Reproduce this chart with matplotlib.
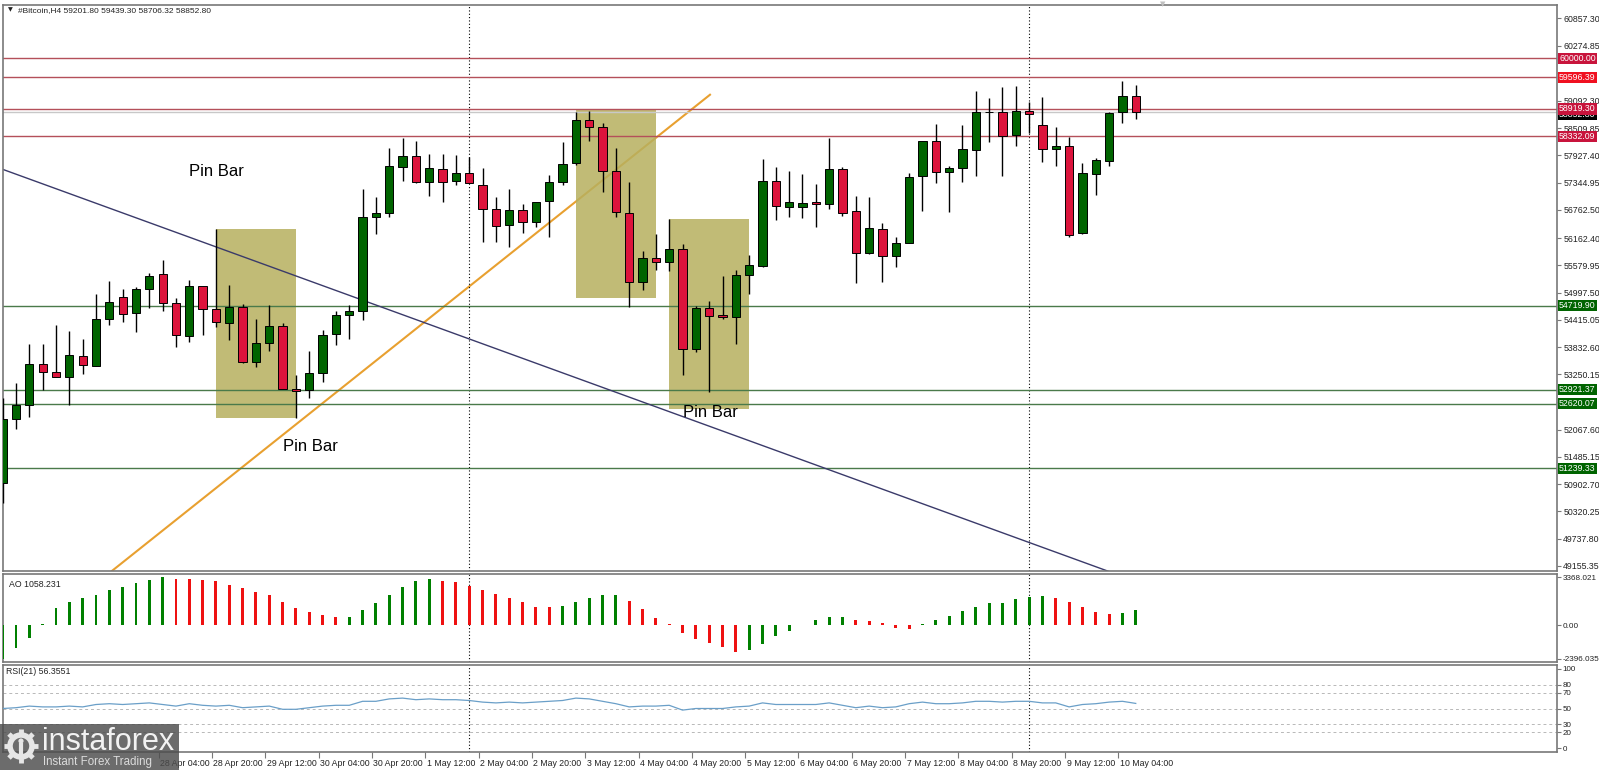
import matplotlib
matplotlib.use("Agg")
import matplotlib.pyplot as plt
import matplotlib.transforms as mtransforms
from matplotlib.patches import Rectangle, Circle
import numpy as np

plt.rcParams["font.family"] = ["Liberation Sans", "DejaVu Sans"]

# =====================================================
# Data (26 Apr 04:00 -> 10 May 08:00)
# =====================================================

opens = [50934, 52288, 52594, 53470, 53293, 53186, 53647, 53427, 54432, 54895,
         54560, 55066, 55399, 54774, 54075, 55130, 54645, 54340, 54694, 53519,
         53912, 54276, 52936, 52914, 53271, 54111, 54517, 54609, 56611, 56690,
         57673, 57915, 57353, 57637, 57387, 57552, 57302, 56789, 56440, 56767,
         56498, 56947, 57365, 57772, 58690, 58528, 57601, 56690, 55229, 55729,
         55656, 55921, 53791, 54660, 54517, 54481, 55372, 55571, 57381, 56832,
         56832, 56926, 56889, 57637, 56746, 55836, 56348, 55784, 56062, 57494,
         58242, 57580, 57652, 58043, 58849, 58849, 58364, 58883, 58584, 58064,
         58122, 56263, 57530, 57814, 58849, 59201.80]
highs = [52744, 53071, 53898, 53898, 54302, 54169, 53998, 54960, 55244, 55066,
         55115, 55421, 55693, 54874, 55265, 55130, 56361, 55158, 54752, 54425,
         54731, 54340, 53235, 53754, 54197, 54609, 54731, 57203, 57032, 58079,
         58293, 58235, 57951, 57951, 57930, 57893, 57652, 57032, 57210, 56889,
         56926, 57516, 58208, 58849, 58883, 58614, 58079, 57353, 55891, 56248,
         56562, 56035, 54709, 54816, 55351, 55479, 55799, 57844, 57673, 57594,
         57530, 57317, 58293, 57686, 57060, 57032, 56489, 56177, 57545, 58242,
         58592, 57701, 58571, 59310, 59148, 59383, 59411, 59062, 59169, 58528,
         58327, 57759, 57866, 58849, 59524, 59439.30]
lows = [50500, 52075, 52331, 52914, 53186, 52594, 53256, 53427, 54303, 54361,
        54147, 54660, 54609, 53840, 53947, 54090, 54254, 53983, 53485, 53412,
        53754, 52936, 52316, 52738, 53092, 53876, 53998, 54410, 56248, 56605,
        57387, 57331, 57067, 56925, 57295, 57331, 56084, 56084, 55977, 56276,
        56404, 56178, 57295, 57722, 58242, 57152, 56605, 54695, 55051, 55479,
        55457, 53235, 53720, 52878, 54425, 53897, 54966, 55536, 56547, 56618,
        56583, 56391, 56776, 56639, 55207, 55821, 55229, 55549, 56049, 56746,
        57331, 56724, 57365, 57494, 58220, 57494, 58129, 58400, 57780, 57708,
        56178, 56248, 57081, 57708, 58613, 58706.32]
closes = [52288, 52594, 53470, 53293, 53186, 53662, 53449, 54432, 54795, 54538,
          55066, 55350, 54774, 54090, 55130, 54645, 54361, 54694, 53519, 53912,
          54288, 52936, 52900, 53271, 54090, 54517, 54609, 56611, 56690, 57694,
          57921, 57365, 57658, 57365, 57552, 57331, 56782, 56425, 56767, 56498,
          56926, 57353, 57744, 58690, 58528, 57601, 56712, 55229, 55729, 55643,
          55921, 53791, 54660, 54502, 54481, 55372, 55586, 57381, 56853, 56926,
          56904, 56889, 57637, 56703, 55848, 56370, 55784, 56062, 57460, 58242,
          57580, 57652, 58064, 58849, 58855, 58349, 58883, 58812, 58064, 58122,
          56227, 57545, 57829, 58827, 59201.80, 58852.80]

ao_values = [-2396.035, -1600, -895, 70, 1180, 1600, 1885, 2120, 2470, 2660,
             2945, 3180, 3368.021, 3250, 3225, 3180, 3130, 2825, 2640, 2355,
             2120, 1650, 1180, 895, 705, 540, 590, 1060, 1580, 2120,
             2660, 3130, 3250, 3130, 3015, 2755, 2495, 2190, 1885, 1600,
             1295, 1250, 1365, 1650, 1940, 2120, 2150, 1720, 1130, 470,
             45, -590, -990, -1295, -1530, -1885, -1765, -1340, -755, -400,
             30, 355, 540, 560, 355, 285, 120, -235, -285, 40,
             355, 660, 1015, 1295, 1530, 1560, 1835, 2000, 2030, 1885,
             1650, 1250, 895, 775, 850, 1058.231]

rsi_values = [50, 51, 53, 52, 52, 53, 52, 55, 56, 55,
              56, 57, 55, 53, 56, 54, 53, 54, 51, 52,
              53, 49, 49, 51, 53, 54, 54, 59, 59, 62,
              63, 61, 62, 61, 61, 60, 58, 57, 58, 57,
              58, 59, 60, 63, 62, 59, 56, 52, 53, 53,
              54, 48, 50, 50, 50, 52, 53, 57, 55, 55,
              55, 55, 57, 54, 51, 53, 51, 52, 56, 58,
              56, 56, 57, 59, 59, 58, 59, 59, 57, 57,
              52, 55, 56, 58, 59, 56.3551]

# the 27 Apr label is hidden by the broker logo in the original
time_labels = ["26 Apr 2021", "28 Apr 04:00", "28 Apr 20:00",
               "29 Apr 12:00", "30 Apr 04:00", "30 Apr 20:00", "1 May 12:00",
               "2 May 04:00", "2 May 20:00", "3 May 12:00", "4 May 04:00",
               "4 May 20:00", "5 May 12:00", "6 May 04:00", "6 May 20:00",
               "7 May 12:00", "8 May 04:00", "8 May 20:00", "9 May 12:00",
               "10 May 04:00"]
time_label_idx = [0, 12, 16, 20, 24, 28, 32, 36, 40, 44, 48, 52, 56, 60,
                  64, 68, 72, 76, 80, 84]

# scale labels; the two that sit under the level boxes are left unlabeled
price_ticks = [60857.30, 60274.85, 59692.40, 59092.30, 58509.85, 57927.40,
               57344.95, 56762.50, 56162.40, 55579.95, 54997.50, 54415.05,
               53832.60, 53250.15, 52667.70, 52067.60, 51485.15, 50902.70,
               50320.25, 49737.80, 49155.35]
hidden_ticks = [59692.40, 52667.70]

resistance_levels = [60000.00, 59596.39, 58919.30, 58332.09]
resistance_box = ["#c8143c", "#f01020", "#c8143c", "#c8143c"]
support_levels = [54719.90, 52921.37, 52620.07, 51239.33]
bid_price = 58852.80

# boxes: (first bar, last bar, low, high)
pin_boxes = [(16, 22, 52316, 56361), (43, 49, 54874, 58919), (50, 56, 52502, 56562)]
pin_labels = [(16.0, 57573), (23.1, 51718), (53.1, 52444)]
downtrend_x, downtrend_y = [0.0, 83.3], [57630, 49004]
uptrend_x, uptrend_y = [8.0, 53.06], [49004, 59224]
week_separators = [35, 77]

# =====================================================
# Figure layout
# =====================================================

W, H = 1599, 770
fig = plt.figure(figsize=(W / 100, H / 100), dpi=100)
fig.patch.set_facecolor("white")


def px_axes(x0, y0, x1, y1):
    return fig.add_axes([x0 / W, 1 - y1 / H, (x1 - x0) / W, (y1 - y0) / H])


ax = px_axes(2.5, 5, 1557, 571)
ax_ao = px_axes(2.5, 574, 1557, 662)
ax_rsi = px_axes(2.5, 665, 1557, 752)

small = 6.3
spine_col = "#787878"
XLIM = (-0.013, 116.6)
x = np.arange(len(opens))
o = np.array(opens, float)
h = np.array(highs, float)
l = np.array(lows, float)
c = np.array(closes, float)

for a in (ax, ax_ao, ax_rsi):
    for s in a.spines.values():
        s.set_color(spine_col)
        s.set_linewidth(1.2)
    a.yaxis.tick_right()
    a.tick_params(axis="y", length=3, width=0.8, color=spine_col,
                  labelsize=small, pad=1.5, labelcolor="#222222")
    for sep in week_separators:
        a.axvline(sep, color="black", lw=0.8, ls=(0, (1, 2)), zorder=2)

ax.tick_params(axis="x", bottom=False, labelbottom=False)
ax_ao.tick_params(axis="x", bottom=False, labelbottom=False)

# =====================================================
# Main price panel
# =====================================================

ax.set_ylim(49047, 61141.5)
ax.set_yticks(price_ticks)
ax.set_yticklabels(["" if v in hidden_ticks else f"{v:.2f}" for v in price_ticks])

for lo_i, hi_i, lo_p, hi_p in pin_boxes:
    ax.add_patch(Rectangle((lo_i, lo_p), hi_i - lo_i, hi_p - lo_p,
                           fc="#b7b05e", alpha=0.85, ec="none", zorder=1))

ax.plot(uptrend_x, uptrend_y, color="#e8a030", lw=1.5, zorder=0.8)
ax.plot(downtrend_x, downtrend_y, color="#3a3a6a", lw=1.0, zorder=2.5)

for lvl in resistance_levels:
    ax.axhline(lvl, color="#b4505a", lw=1.0, zorder=2)
for lvl in support_levels:
    ax.axhline(lvl, color="#4a7a4a", lw=1.0, zorder=2)
ax.axhline(bid_price, color="#c8c8c8", lw=1.0, zorder=2)

# candles
up = c >= o
body_col = np.where(up, "#006400", "#dc143c")
ax.vlines(x, l, h, color="black", lw=1.0, zorder=3)
ax.bar(x, np.maximum(np.abs(c - o), 8), bottom=np.minimum(o, c), width=0.62,
       color=body_col, edgecolor="black", linewidth=0.7, zorder=4)

for px, py in pin_labels:
    ax.text(px, py, "Pin Bar", fontsize=12, ha="center", va="center",
            color="black", zorder=6)

# level price boxes on the right scale
ytr = ax.get_yaxis_transform()
box_kw = dict(transform=ytr, ha="left", va="center", fontsize=small,
              color="white", clip_on=False, zorder=10)
ax.text(1.0013, bid_price - 60, f"{bid_price:.2f}",
        bbox=dict(boxstyle="square,pad=0.12", fc="black", ec="none"), **box_kw)
for lvl, col in zip(resistance_levels, resistance_box):
    ax.text(1.0013, lvl, f"{lvl:.2f}",
            bbox=dict(boxstyle="square,pad=0.12", fc=col, ec="none"), **box_kw)
for lvl in support_levels:
    ax.text(1.0013, lvl, f"{lvl:.2f}",
            bbox=dict(boxstyle="square,pad=0.12", fc="#006400", ec="none"), **box_kw)

ax.text(0.0035, 0.9965, "▼", transform=ax.transAxes, fontsize=4.5,
        va="top", ha="left", color="#222222", family=["DejaVu Sans"])
ax.text(0.010, 0.997, "#Bitcoin,H4 59201.80 59439.30 58706.32 58852.80",
        transform=ax.transAxes, fontsize=6.0, va="top", ha="left",
        color="#222222")

# =====================================================
# Awesome Oscillator panel
# =====================================================

ao_col = ["#008000"] + ["#008000" if ao_values[i] > ao_values[i - 1] else "#ee1111"
                        for i in range(1, len(ao_values))]
ax_ao.bar(x, ao_values, width=0.22, color=ao_col, zorder=3)
ax_ao.set_ylim(-2612, 3601)
ax_ao.set_yticks([3368.021, 0.0, -2396.035])
ax_ao.set_yticklabels(["3368.021", "0.00", "-2396.035"])
ax_ao.tick_params(axis="y", labelsize=5.9, pad=1)
ax_ao.text(0.004, 0.93, "AO 1058.231", transform=ax_ao.transAxes,
           fontsize=small, va="top", ha="left", color="#222222")

# =====================================================
# RSI panel
# =====================================================

for lv in [80, 70, 50, 30, 20]:
    ax_rsi.axhline(lv, color="#b8b8b8", lw=0.7, ls=(0, (3, 3)), zorder=1)
ax_rsi.plot(x, rsi_values, color="#6a9fc8", lw=0.9, zorder=3)
ax_rsi.set_ylim(-4.4, 104.4)
ax_rsi.set_yticks([100, 80, 70, 50, 30, 20, 0])
ax_rsi.set_yticklabels(["100", "80", "70", "50", "30", "20", "0"])
ax_rsi.tick_params(axis="y", labelsize=5.8, pad=1)
ax_rsi.text(0.002, 0.975, "RSI(21) 56.3551", transform=ax_rsi.transAxes,
            fontsize=small, va="top", ha="left", color="#222222")

# MT4 puts the time tick a little left of the bar centre
ax_rsi.set_xticks(np.array(time_label_idx) - 0.3)
ax_rsi.set_xticklabels(time_labels)
ax_rsi.tick_params(axis="x", length=4, width=0.8, color=spine_col,
                   labelsize=small, pad=1, labelcolor="#222222")
shift = mtransforms.ScaledTranslation(1.5 / 100, 0, fig.dpi_scale_trans)
for lab in ax_rsi.get_xticklabels():
    lab.set_ha("left")
    lab.set_transform(lab.get_transform() + shift)

for a in (ax, ax_ao, ax_rsi):
    a.set_xlim(*XLIM)

# =====================================================
# Watermark
# =====================================================

ov = fig.add_axes([0, 0, 1, 1], zorder=20)
ov.set_xlim(0, W)
ov.set_ylim(H, 0)
ov.axis("off")
ov.add_patch(Rectangle((0, 724), 179, 46, fc="#4c4c4c", alpha=0.82, ec="none"))
ov.add_patch(Circle((21, 746), 11, fill=False, ec="#e6e6e6", lw=4))
for ang in np.linspace(0, 2 * np.pi, 9)[:-1]:
    ov.plot([21 + 12 * np.cos(ang), 21 + 17 * np.cos(ang)],
            [746 + 12 * np.sin(ang), 746 + 17 * np.sin(ang)],
            color="#e6e6e6", lw=3.5, solid_capstyle="butt")
ov.add_patch(Circle((21, 741), 2.6, fc="#e6e6e6", ec="none"))
ov.plot([21, 21], [745, 754], color="#e6e6e6", lw=3)
ov.text(42, 742, "instaforex", fontsize=22, color="#f2f2f2", va="center", ha="left")
ov.text(43, 762, "Instant Forex Trading", fontsize=8.3, color="#dcdcdc",
        va="center", ha="left")
ov.text(1163, 4, "▼", fontsize=5, color="#c0c0c0", ha="center", va="center",
        family=["DejaVu Sans"])

fig.savefig("out.png", dpi=100)
